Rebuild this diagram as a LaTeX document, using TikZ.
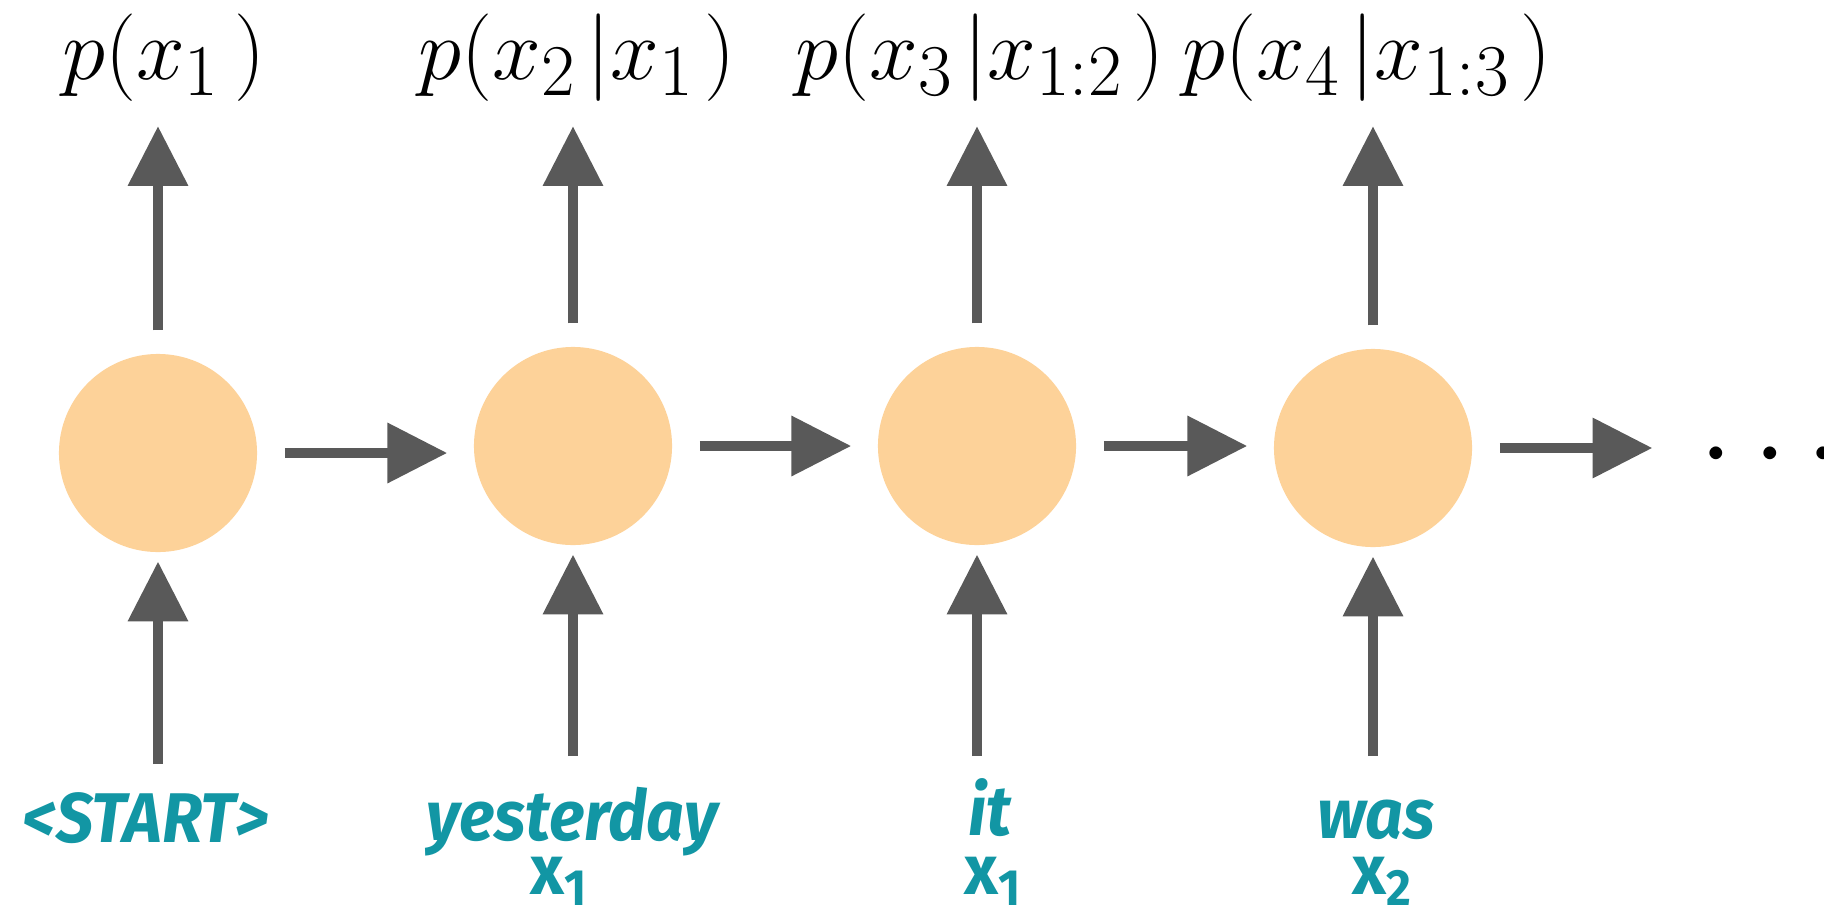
\documentclass[tikz,border=0pt]{standalone}
\usepackage{amsmath}
\usepackage{graphicx}
\usepackage{fontspec}
\usetikzlibrary{arrows.meta}

\newfontfamily\wordfont{Fira Sans}[FakeStretch=0.94]
\definecolor{cellfill}{RGB}{253,210,153}
\definecolor{arrowgray}{RGB}{89,89,89}
\definecolor{wordteal}{RGB}{18,150,164}
\newcommand{\tokx}[1]{x\raisebox{-3.4pt}{\fontsize{14.5}{16}\selectfont #1}}

\begin{document}
\begin{tikzpicture}[x=0.01cm, y=-0.01cm,
    cell/.style={circle, fill=cellfill, minimum size=1.98cm, inner sep=0pt},
    prob/.style={anchor=base, inner sep=0pt, font=\Huge},
    word/.style={anchor=base, inner sep=0pt, text=wordteal, font=\wordfont\bfseries\itshape\fontsize{20}{24}\selectfont},
    tok/.style={anchor=base, inner sep=0pt, text=wordteal, font=\wordfont\bfseries\fontsize{20}{24}\selectfont},
    flow/.style={draw=arrowgray, line width=2.85pt, -{Triangle[length=17pt,width=16.5pt]}},
    nextarrow/.style={flow, shorten <=7.7pt, shorten >=7.4pt},
    outarrow/.style={flow, shorten <=6.5pt, shorten >=7pt},
    inarrow/.style={flow, shorten >=2.5pt}
  ]
  \useasboundingbox (0,0) rectangle (1824,909);

  % hidden states
  \node[cell] (h1) at (158,453) {};
  \node[cell] (h2) at (573,446) {};
  \node[cell] (h3) at (977,446) {};
  \node[cell] (h4) at (1373,448) {};
  \node[anchor=base, inner sep=0pt, font=\Huge] (more) at (1780,483) {\scalebox{1.38}{$\cdots$}};

  % outputs
  \node[prob] (p1) at (164,79) {$p(x_1\mkern3mu)$};
  \node[prob] (p2) at (577,79) {$p(x_2\mkern2mu|x_1\mkern2mu)$};
  \node[prob] (p3) at (980,79) {$p(x_3\mkern2mu|x_{1:2}\mkern2mu)$};
  \node[prob] (p4) at (1367,79) {$p(x_4\mkern2mu|x_{1:3}\mkern2mu)$};

  % inputs
  \node[word] (w1) at (146,842) {<START>};
  \node[word] (w2) at (572,840) {yesterday};
  \node[word] (w3) at (990,835) {it};
  \node[word] (w4) at (1376,838) {was};
  \node[tok] (x2) at (559,894) {\tokx{1}};
  \node[tok] (x3) at (993,894) {\tokx{1}};
  \node[tok] (x4) at (1382,894) {\tokx{2}};
  \coordinate (in1) at (158,764);
  \coordinate (in2) at (573,756);
  \coordinate (in3) at (977,756);
  \coordinate (in4) at (1373,756);

  % recurrence
  \draw[nextarrow] (h1.east) -- (h1.east -| h2.west);
  \draw[nextarrow] (h2.east) -- (h2.east -| h3.west);
  \draw[nextarrow] (h3.east) -- (h3.east -| h4.west);
  \draw[nextarrow, shorten >=13.2pt] (h4.east) -- (h4.east -| more.west);

  \draw[outarrow] (h1.north) -- (h1.north |- p1.south);
  \draw[outarrow] (h2.north) -- (h2.north |- p2.south);
  \draw[outarrow] (h3.north) -- (h3.north |- p3.south);
  \draw[outarrow] (h4.north) -- (h4.north |- p4.south);

  \draw[inarrow] (in1) -- (h1.south);
  \draw[inarrow] (in2) -- (h2.south);
  \draw[inarrow] (in3) -- (h3.south);
  \draw[inarrow] (in4) -- (h4.south);
\end{tikzpicture}
\end{document}
